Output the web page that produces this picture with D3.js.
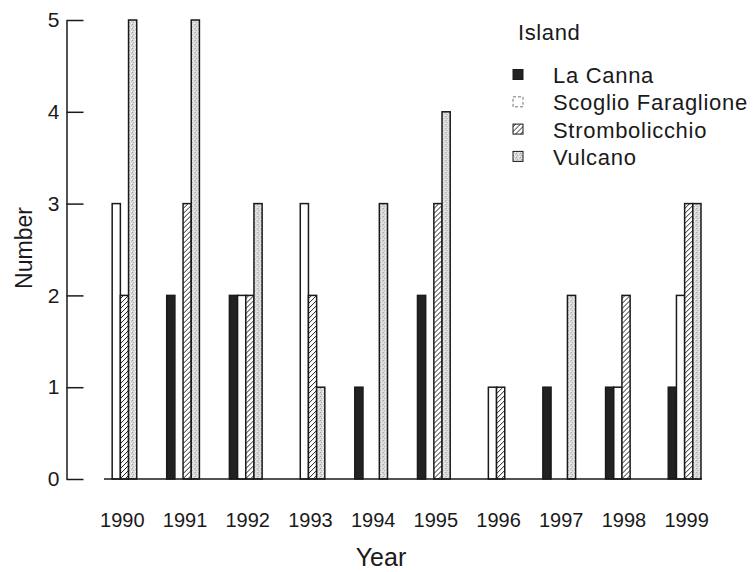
<!DOCTYPE html>
<html>
<head>
<meta charset="utf-8">
<script src="https://cdn.jsdelivr.net/npm/d3@7"></script>
<style>
  html, body { margin: 0; padding: 0; background: #fff; }
  text { font-family: "Liberation Sans", Arial, Helvetica, sans-serif; fill: #1a1a1a; }
</style>
</head>
<body>
<svg id="chart" width="755" height="572"></svg>
<script>
const years = ["1990","1991","1992","1993","1994","1995","1996","1997","1998","1999"];
const islands = ["La Canna","Scoglio Faraglione","Strombolicchio","Vulcano"];
const laCanna        = [0,2,2,0,1,2,0,1,1,1];
const scoglio        = [3,0,2,3,0,0,1,0,1,2];
const strombolicchio = [2,3,2,2,0,3,1,0,2,3];
const vulcano        = [5,5,3,1,3,4,0,2,0,3];
const yTicks = [0,1,2,3,4,5];

const seriesValues = [laCanna, scoglio, strombolicchio, vulcano];
const data = years.map((y, i) => ({year: y, values: islands.map((s, k) => ({island: s, value: seriesValues[k][i]}))}));

const svg = d3.select("#chart");
const defs = svg.append("defs");

// hatch pattern
const hatch = defs.append("pattern").attr("id","hatch").attr("patternUnits","userSpaceOnUse")
  .attr("width",5).attr("height",5);
hatch.append("rect").attr("width",5).attr("height",5).attr("fill","#fff");
hatch.append("path").attr("d","M-1,1 L1,-1 M0,5 L5,0 M4,6 L6,4").attr("stroke","#222").attr("stroke-width",1);

// stipple pattern
const stip = defs.append("pattern").attr("id","stipple").attr("patternUnits","userSpaceOnUse")
  .attr("width",4).attr("height",4);
stip.append("rect").attr("width",4).attr("height",4).attr("fill","#dcdcdc");
[[0,0,"#9a9a9a"],[2,1,"#f4f4f4"],[1,2,"#a8a8a8"],[3,3,"#f0f0f0"],[3,1,"#bdbdbd"]].forEach(([x,y,c]) =>
  stip.append("rect").attr("x",x).attr("y",y).attr("width",1).attr("height",1).attr("fill",c));

const fills = {
  "La Canna": "#222",
  "Scoglio Faraglione": "#fff",
  "Strombolicchio": "url(#hatch)",
  "Vulcano": "url(#stipple)"
};

const x0 = d3.scaleBand().domain(years).range([104, 701]).paddingInner(0.478).paddingOuter(0);
const x1 = d3.scaleBand().domain(islands).range([0, x0.bandwidth()]).padding(0);
const y = d3.scaleLinear().domain([0,5]).range([479, 20]);

// bars
const groups = svg.append("g").selectAll("g").data(data).join("g")
  .attr("transform", d => `translate(${x0(d.year)},0)`);
groups.selectAll("rect").data(d => d.values.filter(v => v.value > 0)).join("rect")
  .attr("x", d => x1(d.island))
  .attr("y", d => y(d.value))
  .attr("width", x1.bandwidth())
  .attr("height", d => y(0) - y(d.value))
  .attr("fill", d => fills[d.island])
  .attr("stroke", "#1a1a1a")
  .attr("stroke-width", 1.5);

// baseline
svg.append("line")
  .attr("x1", x0.range()[0]).attr("x2", x0.range()[1] + 1)
  .attr("y1", y(0)).attr("y2", y(0))
  .attr("stroke", "#1a1a1a").attr("stroke-width", 1.5);

// y axis
const yAxis = svg.append("g").attr("transform","translate(66.5,0)")
  .call(d3.axisLeft(y).tickValues(yTicks).tickFormat(d3.format("d")).tickSizeInner(-17).tickSizeOuter(0).tickPadding(7));
yAxis.select(".domain").attr("stroke","#1a1a1a").attr("stroke-width",1.5);
yAxis.selectAll(".tick line").attr("stroke","#1a1a1a").attr("stroke-width",1.5);
yAxis.selectAll(".tick text").attr("font-size",21).attr("font-family","Liberation Sans, Arial, sans-serif").attr("fill","#1a1a1a");

// x labels
svg.append("g").selectAll("text").data(years).join("text")
  .attr("x", d => x0(d) + x0.bandwidth()/2 + 2)
  .attr("y", 527)
  .attr("text-anchor","middle")
  .attr("font-size",20)
  .text(d => d);

// axis titles
svg.append("text").attr("x", 381).attr("y", 566).attr("text-anchor","middle")
  .attr("font-size",25).text("Year");
svg.append("text").attr("transform","translate(32,248) rotate(-90)").attr("text-anchor","middle")
  .attr("font-size",23).text("Number");

// legend
const legend = svg.append("g");
legend.append("text").attr("x",518).attr("y",40).attr("font-size",22).attr("letter-spacing",0.6).text("Island");
const li = legend.selectAll("g.item").data(islands).join("g").attr("class","item")
  .attr("transform",(d,i) => `translate(0,${75 + i*27.3})`);
li.append("rect").attr("x",513).attr("y",-5.5).attr("width",10).attr("height",10)
  .attr("fill", d => fills[d])
  .attr("stroke", d => d === "Scoglio Faraglione" ? "#777" : "#1a1a1a")
  .attr("stroke-dasharray", d => d === "Scoglio Faraglione" ? "3,2" : null)
  .attr("stroke-width", 1);
li.append("text").attr("x",553).attr("y",8).attr("font-size",22).attr("letter-spacing",0.7).text(d => d);
</script>
</body>
</html>
